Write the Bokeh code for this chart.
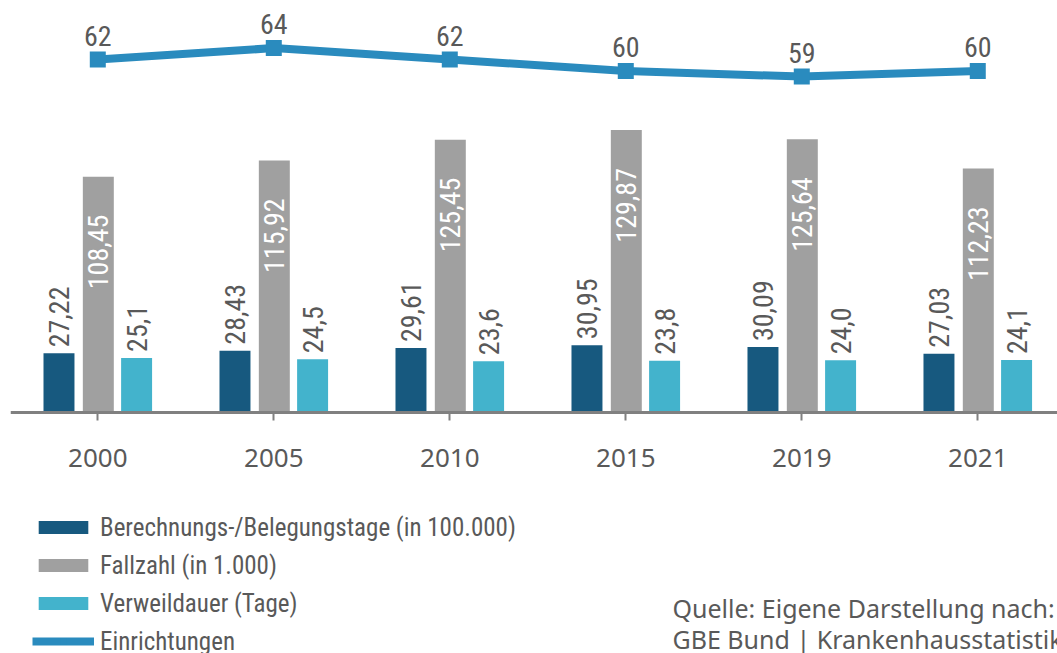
import math
from bokeh.plotting import figure
from bokeh.models import (Range1d, FixedTicker, Legend, LegendItem,
                          ColumnDataSource, Label)
from bokeh.transform import dodge
from bokeh.core.properties import value
from bokeh.embed import file_html
from bokeh.resources import INLINE

# ---------------- data ----------------
years = ["2000", "2005", "2010", "2015", "2019", "2021"]
belegungstage = [27.22, 28.43, 29.61, 30.95, 30.09, 27.03]      # in 100.000
fallzahl = [108.45, 115.92, 125.45, 129.87, 125.64, 112.23]     # in 1.000
verweildauer = [25.1, 24.5, 23.6, 23.8, 24.0, 24.1]             # Tage
einrichtungen = [62, 64, 62, 60, 59, 60]

series_names = ["Berechnungs-/Belegungstage (in 100.000)",
                "Fallzahl (in 1.000)",
                "Verweildauer (Tage)",
                "Einrichtungen"]
source_lines = ["Quelle: Eigene Darstellung nach:",
                "GBE Bund | Krankenhausstatistik"]


def de(v, nd):
    return f"{v:.{nd}f}".replace(".", ",")


# ---------------- style ----------------
DARK = "#17597f"
GRAY = "#a0a0a0"
CYAN = "#43b3cc"
LINE = "#2a8bbe"
TXT = "#595959"
AX_FONT = "Noto Sans"
LAB_FONT = "Roboto Condensed"
LEG_FONT = "Roboto Condensed"
SRC_FONT = "Noto Sans"

BAR_PX = 2.175       # px per bar unit
LINE_PX = 5.7        # px per Einrichtung unit

idx = list(range(len(years)))
src = ColumnDataSource(dict(
    x=idx, year=years,
    b=belegungstage, f=fallzahl, v=verweildauer, e=einrichtungen,
    b_lab=[de(v, 2) for v in belegungstage],
    f_lab=[de(v, 2) for v in fallzahl],
    v_lab=[de(v, 1) for v in verweildauer],
    e_lab=[str(v) for v in einrichtungen],
    b_y=[v + 6 / BAR_PX for v in belegungstage],
    f_y=[v - 38 / BAR_PX for v in fallzahl],
    v_y=[v + 6 / BAR_PX for v in verweildauer],
    e_y=[v + 24 / LINE_PX for v in einrichtungen],
))

p = figure(width=1057, height=653, output_backend="svg", toolbar_location=None,
           x_range=Range1d(-0.496, 5.453), y_range=Range1d(-110.80, 189.43),
           y_axis_location=None, min_border_left=10, min_border_right=0,
           min_border_top=0, min_border_bottom=0, outline_line_color=None)
p.extra_y_ranges = {"inst": Range1d(-42.21, 72.351)}
p.xgrid.visible = False
p.ygrid.visible = False

ax = p.xaxis[0]
ax.fixed_location = 0
ax.ticker = FixedTicker(ticks=idx)
ax.major_label_overrides = {i: y for i, y in zip(idx, years)}
ax.axis_line_color = "#808080"
ax.axis_line_width = 3
ax.major_tick_line_color = "#808080"
ax.major_tick_line_width = 2
ax.major_tick_out = 8
ax.major_tick_in = 0
ax.minor_tick_line_color = None
ax.major_label_text_font = AX_FONT
ax.major_label_text_font_size = "26px"
ax.major_label_text_color = TXT
ax.major_label_standoff = 28

OFF = 0.2205
W = 0.176
r_b = p.vbar(x=dodge("x", -OFF, range=p.x_range), top="b", width=W,
             fill_color=DARK, line_color=None, source=src)
r_f = p.vbar(x=dodge("x", 0.003, range=p.x_range), top="f", width=W,
             fill_color=GRAY, line_color=None, source=src)
r_v = p.vbar(x=dodge("x", OFF, range=p.x_range), top="v", width=W,
             fill_color=CYAN, line_color=None, source=src)

r_l = p.line("x", "e", y_range_name="inst", line_width=8, line_color=LINE,
             source=src)
r_s = p.scatter("x", "e", y_range_name="inst", marker="square", size=16,
                fill_color=LINE, line_color=None, source=src)

ang = math.pi / 2
LFS = "28px"
p.text(x=dodge("x", -OFF, range=p.x_range), y="b_y", text="b_lab", angle=ang,
       text_align="left", text_baseline="middle", text_font=value(LAB_FONT),
       text_font_size=LFS, text_color=TXT, source=src)
p.text(x=dodge("x", 0.003, range=p.x_range), y="f_y", text="f_lab", angle=ang,
       text_align="right", text_baseline="middle", text_font=value(LAB_FONT),
       text_font_size=LFS, text_color="white", source=src)
p.text(x=dodge("x", OFF, range=p.x_range), y="v_y", text="v_lab", angle=ang,
       text_align="left", text_baseline="middle", text_font=value(LAB_FONT),
       text_font_size=LFS, text_color=TXT, source=src)
p.text(x="x", y="e_y", text="e_lab", y_range_name="inst",
       text_align="center", text_baseline="alphabetic", text_font=value(LAB_FONT),
       text_font_size=LFS, text_color=TXT, source=src)

legend = Legend(items=[
    LegendItem(label=series_names[0], renderers=[r_b]),
    LegendItem(label=series_names[1], renderers=[r_f]),
    LegendItem(label=series_names[2], renderers=[r_v]),
    LegendItem(label=series_names[3], renderers=[r_l, r_s]),
], location=(22, -3), orientation="vertical", glyph_width=62, glyph_height=16,
    label_standoff=6, spacing=8, padding=0, margin=0, label_height=30,
    border_line_color=None, background_fill_alpha=0,
    label_text_font=LEG_FONT, label_text_font_size="25px", label_text_color=TXT)
p.add_layout(legend)

p.add_layout(Label(x=662, y=46, x_units="screen", y_units="screen",
                   text=source_lines[0], text_font=SRC_FONT, text_font_size="25px",
                   text_color=TXT, text_baseline="alphabetic"))
p.add_layout(Label(x=662, y=15, x_units="screen", y_units="screen",
                   text=source_lines[1], text_font=SRC_FONT, text_font_size="25px",
                   text_color=TXT, text_baseline="alphabetic"))

open("out.html", "w").write(file_html(p, INLINE))
